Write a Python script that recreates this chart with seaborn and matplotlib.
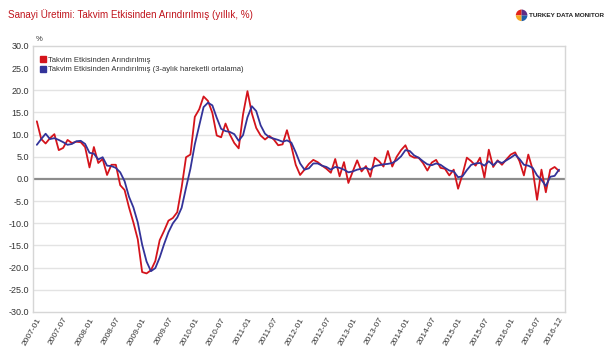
import numpy as np
import pandas as pd
import seaborn as sns
import matplotlib.pyplot as plt
from matplotlib.lines import Line2D

months = pd.date_range("2007-01", "2016-12", freq="MS").strftime("%Y-%m").tolist()

# Takvim etkisinden arindirilmis, yillik %
ip_yoy = [
    13.0, 9.0, 8.0, 9.2, 10.1, 6.5, 7.0, 8.8, 8.1, 8.4, 8.3, 7.2,
    2.6, 7.2, 3.6, 4.5, 0.9, 3.2, 3.2, -1.4, -2.5, -6.4, -9.8, -13.6,
    -21.0, -21.3, -20.6, -18.5, -13.8, -11.7, -9.4, -8.8, -7.5, -1.9, 4.9, 5.5,
    14.0, 15.7, 18.6, 17.6, 14.9, 9.8, 9.4, 12.5, 10.0, 8.1, 6.9, 14.6,
    19.8, 14.8, 11.5, 9.8, 8.9, 9.7, 8.9, 7.6, 7.8, 11.0, 7.4, 3.2,
    0.9, 2.1, 3.4, 4.3, 3.8, 3.0, 2.3, 1.4, 4.5, 0.6, 3.8, -0.9,
    1.7, 4.2, 1.7, 2.9, 0.5, 4.8, 4.0, 2.8, 6.3, 2.8, 5.0, 6.5,
    7.6, 5.3, 4.8, 4.8, 3.6, 1.9, 3.7, 4.3, 2.5, 2.3, 0.8, 2.1,
    -2.2, 1.0, 4.8, 4.0, 3.0, 4.8, 0.3, 6.6, 2.7, 4.2, 3.2, 4.4,
    5.5, 6.0, 4.0, 0.8, 5.5, 2.1, -4.7, 2.1, -3.0, 2.1, 2.7, 1.8,
]

# 3-aylik hareketli ortalama
ip_ma3 = [
    7.7, 9.0, 10.2, 9.0, 9.2, 8.8, 8.3, 7.7, 7.9, 8.5, 8.6, 7.9,
    5.9, 5.7, 4.4, 4.9, 3.0, 2.9, 2.5, 1.5, -0.5, -4.0, -6.4, -9.8,
    -14.8, -18.6, -20.8, -20.1, -17.7, -14.7, -12.0, -10.0, -8.7, -6.5, -2.0, 2.3,
    7.8, 12.0, 16.2, 17.2, 16.6, 13.8, 11.3, 10.8, 10.6, 10.1, 8.6, 9.9,
    13.9, 16.4, 15.3, 12.1, 10.2, 9.4, 9.1, 8.8, 8.4, 8.7, 8.2, 6.0,
    3.5, 2.1, 2.4, 3.5, 3.5, 3.0, 2.7, 2.1, 2.7, 2.5, 2.1, 1.5,
    1.7, 2.1, 2.3, 2.5, 2.1, 2.9, 3.1, 3.3, 3.4, 3.6, 4.2, 5.1,
    6.5, 6.3, 5.3, 4.8, 4.0, 3.3, 3.1, 3.5, 3.2, 2.5, 1.9, 1.7,
    0.4, 0.6, 2.0, 3.2, 3.5, 3.6, 3.0, 4.0, 3.1, 4.0, 3.6, 4.2,
    4.8, 5.5, 4.5, 3.2, 3.0, 2.5, 0.8, -0.2, -1.6, 0.5, 0.7, 2.1,
]

s1 = "Takvim Etkisinden Arındırılmış"
s2 = "Takvim Etkisinden Arındırılmış (3-aylık hareketli ortalama)"
red = "#d4141c"
blue = "#333399"

df = pd.DataFrame({
    "idx": list(range(len(months))) * 2,
    "value": ip_yoy + ip_ma3,
    "series": [s1] * len(months) + [s2] * len(months),
})

sns.set_theme(style="white")
plt.rcParams["font.family"] = ["Liberation Sans", "DejaVu Sans"]

fig = plt.figure(figsize=(6.09, 3.56), dpi=100)
ax = fig.add_axes([0.054, 0.1236, 0.874, 0.7474])

sns.lineplot(data=df, x="idx", y="value", hue="series",
             palette={s1: red, s2: blue}, linewidth=1.3,
             legend=False, ax=ax, zorder=3)

ax.set_ylim(-30, 30)
ax.set_xlim(-0.9, 120.4)
ax.set_yticks(np.arange(-30, 31, 5))
ax.set_yticklabels([f"{v:.1f}" for v in np.arange(-30, 31, 5)],
                   fontsize=6.5, color="#333333")
for v in np.arange(-25, 30, 5):
    if v != 0:
        ax.axhline(v, color="#e3e3e3", lw=1, zorder=0)
ax.axhline(0, color="#8c8c8c", lw=1.6, zorder=2)

tick_idx = list(range(0, 120, 6)) + [119]
ax.set_xticks(tick_idx)
ax.set_xticklabels([months[i] for i in tick_idx], rotation=60,
                   ha="right", rotation_mode="anchor", fontsize=6, color="#333333")
ax.tick_params(axis="both", length=0, pad=3)
ax.set_xlabel("")
ax.set_ylabel("")

for sp in ax.spines.values():
    sp.set_color("#d6d6d6")
    sp.set_linewidth(1)

# legend sits on a white band that hides the 25 line
ax.axhspan(22.3, 29.8, color="white", zorder=1)
handles = [Line2D([], [], marker="s", color=red, lw=0, markersize=5),
           Line2D([], [], marker="s", color=blue, lw=0, markersize=5)]
leg = ax.legend(handles, [s1, s2], loc="upper left", bbox_to_anchor=(0.0, 0.985),
                frameon=False, fontsize=5.5, handletextpad=0.3,
                labelspacing=0.25, borderaxespad=0.5, handlelength=0.8)
for t in leg.get_texts():
    t.set_color("#333333")

fig.text(0.013, 0.958, "Sanayi Üretimi: Takvim Etkisinden Arındırılmış (yıllık, %)",
         fontsize=7.1, color="#c0141c", va="center")
fig.text(0.058, 0.89, "%", fontsize=5.5, color="#333333", va="center")

# logo
lax = fig.add_axes([0.847, 0.925, 0.019, 0.064])
lax.pie([1, 1, 1, 1], colors=["#e2231a", "#f7a823", "#1f5fa8", "#5b2d86"],
        startangle=90, radius=1.0, wedgeprops={"linewidth": 0})
lax.set_xlim(-1, 1)
lax.set_ylim(-1, 1)
lax.set_aspect("equal")
fig.text(0.869, 0.957, "TURKEY DATA MONITOR", fontsize=4.6, fontweight="bold",
         color="#222222", va="center")

fig.savefig("out.png", dpi=100)
